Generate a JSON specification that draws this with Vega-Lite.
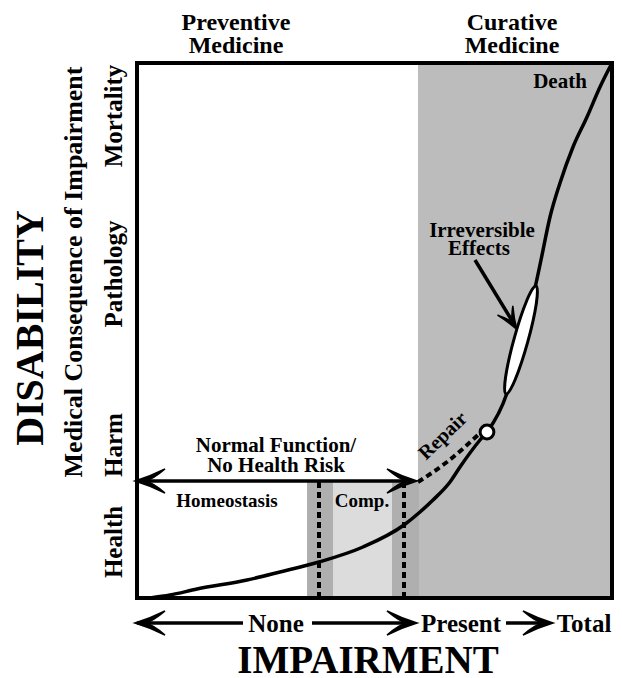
{
  "$schema": "https://vega.github.io/schema/vega-lite/v6.json",
  "width": 475,
  "height": 535,
  "autosize": {"type": "none"},
  "padding": {"left": 137, "top": 63, "right": 10, "bottom": 80},
  "background": "white",
  "config": {"view": {"stroke": null}, "text": {"font": "Liberation Serif", "fontWeight": "bold", "color": "black"}},
  "datasets": {
    "regions": [
      {"kind": "curative", "x": 281, "x2": 475, "y": 0, "y2": 535},
      {"kind": "comp", "x": 196, "x2": 255, "y": 0, "y2": 116},
      {"kind": "stipple", "x": 170, "x2": 196, "y": 0, "y2": 116},
      {"kind": "stipple", "x": 255, "x2": 282, "y": 0, "y2": 116}
    ],
    "vdash": [{"x": 182, "y": 0, "y2": 116}, {"x": 267, "y": 0, "y2": 116}],
    "curve": [
      {"x": 13, "y": 0}, {"x": 33, "y": 3}, {"x": 60, "y": 9}, {"x": 110, "y": 18},
      {"x": 143, "y": 26}, {"x": 182, "y": 36}, {"x": 226, "y": 51}, {"x": 267, "y": 73},
      {"x": 283, "y": 86}, {"x": 296, "y": 98}, {"x": 313, "y": 116}, {"x": 323, "y": 131},
      {"x": 343, "y": 158}, {"x": 350, "y": 166}, {"x": 370, "y": 205},
      {"x": 384, "y": 258}, {"x": 398, "y": 310}, {"x": 404, "y": 338}, {"x": 413, "y": 381},
      {"x": 423, "y": 415}, {"x": 436, "y": 451}, {"x": 450, "y": 481}, {"x": 463, "y": 511},
      {"x": 475, "y": 535}
    ],
    "repair": [{"x": 281, "y": 116}, {"x": 310, "y": 136}, {"x": 342, "y": 164}],
    "shafts": [
      {"x": 2, "x2": 274, "y": 117, "y2": 117},
      {"x": 0, "x2": 106, "y": -25, "y2": -25},
      {"x": 175, "x2": 272, "y": -25, "y2": -25},
      {"x": 369, "x2": 408, "y": -25, "y2": -25},
      {"x": 338, "x2": 377, "y": 338, "y2": 274}
    ],
    "heads": [
      {"x": 13, "y": 117, "dir": 180},
      {"x": 265, "y": 117, "dir": 0},
      {"x": 13, "y": -25, "dir": 180},
      {"x": 265, "y": -25, "dir": 0},
      {"x": 401, "y": -25, "dir": 0}
    ],
    "smallhead": [{"x": 374, "y": 278, "dir": 58.6}],
    "circle": [{"x": 350, "y": 166}],
    "ellipse": [{"x": 384, "y": 258}],
    "border": [{"x": 0, "x2": 475, "y": 0, "y2": 535}],
    "headers": [
      {"t": "Preventive", "x": 99, "y": 568}, {"t": "Medicine", "x": 99, "y": 545},
      {"t": "Curative", "x": 375, "y": 568}, {"t": "Medicine", "x": 375, "y": 545}
    ],
    "ylabels": [
      {"t": "Health", "x": -15, "y": 56}, {"t": "Harm", "x": -15, "y": 153},
      {"t": "Pathology", "x": -15, "y": 324}, {"t": "Mortality", "x": -15, "y": 482}
    ],
    "ytitle2": [{"t": "Medical Consequence of Impairment", "x": -55, "y": 326}],
    "ytitle": [{"t": "DISABILITY", "x": -94, "y": 270}],
    "xtitle": [{"t": "IMPAIRMENT", "x": 231, "y": -75}],
    "xlabels": [
      {"t": "None", "x": 139, "y": -34}, {"t": "Present", "x": 324, "y": -34}, {"t": "Total", "x": 447, "y": -34}
    ],
    "inner21": [
      {"t": "Normal Function/", "x": 139, "y": 146}, {"t": "No Health Risk", "x": 139, "y": 126},
      {"t": "Death", "x": 423, "y": 510}, {"t": "Irreversible", "x": 345, "y": 361}, {"t": "Effects", "x": 342, "y": 343}
    ],
    "inner19": [{"t": "Homeostasis", "x": 90, "y": 91}, {"t": "Comp.", "x": 225, "y": 91}],
    "repairText": [{"t": "Repair", "x": 306, "y": 162}]
  },
  "encoding": {
    "x": {"field": "x", "type": "quantitative", "scale": {"domain": [0, 475], "nice": false, "zero": false}, "axis": null},
    "y": {"field": "y", "type": "quantitative", "scale": {"domain": [0, 535], "nice": false, "zero": false}, "axis": null}
  },
  "layer": [
    {
      "data": {"name": "regions"},
      "mark": {"type": "rect"},
      "encoding": {
        "x2": {"field": "x2"}, "y2": {"field": "y2"},
        "color": {"field": "kind", "type": "nominal", "scale": {"domain": ["curative", "comp", "stipple"], "range": ["#bcbcbc", "#dcdcdc", "#afafaf"]}, "legend": null}
      }
    },
    {
      "data": {"name": "vdash"},
      "mark": {"type": "rule", "color": "black", "strokeWidth": 4, "strokeDash": [6, 4]},
      "encoding": {"y2": {"field": "y2"}}
    },
    {
      "data": {"name": "repair"},
      "mark": {"type": "line", "color": "black", "strokeWidth": 4, "strokeDash": [6, 4], "interpolate": "monotone"},
      "encoding": {}
    },
    {
      "data": {"name": "curve"},
      "mark": {"type": "line", "color": "black", "strokeWidth": 3.5, "interpolate": "monotone"},
      "encoding": {}
    },
    {
      "data": {"name": "shafts"},
      "mark": {"type": "rule", "color": "black", "strokeWidth": 3.5},
      "encoding": {"x2": {"field": "x2"}, "y2": {"field": "y2"}}
    },
    {
      "data": {"name": "heads"},
      "mark": {"type": "point", "filled": true, "color": "black", "opacity": 1, "size": 900, "stroke": "black", "strokeWidth": 1.5,
        "shape": "M1,0Q0,-0.3,-1,-0.8Q-0.2,-0.12,0.3,0Q-0.2,0.12,-1,0.8Q0,0.3,1,0Z"},
      "encoding": {"angle": {"field": "dir", "type": "quantitative", "scale": null}}
    },
    {
      "data": {"name": "smallhead"},
      "mark": {"type": "point", "filled": true, "color": "black", "opacity": 1, "size": 500, "stroke": "black", "strokeWidth": 1.5,
        "shape": "M1,0Q0,-0.3,-1,-0.8Q-0.2,-0.12,0.3,0Q-0.2,0.12,-1,0.8Q0,0.3,1,0Z"},
      "encoding": {"angle": {"field": "dir", "type": "quantitative", "scale": null}}
    },
    {
      "data": {"name": "ellipse"},
      "mark": {"type": "point", "filled": true, "fill": "white", "stroke": "black", "strokeWidth": 3, "opacity": 1, "size": 12544, "angle": 15.5,
        "shape": "M0,-1C0.07,-1,0.125,-0.552,0.125,0C0.125,0.552,0.07,1,0,1C-0.07,1,-0.125,0.552,-0.125,0C-0.125,-0.552,-0.07,-1,0,-1Z"},
      "encoding": {}
    },
    {
      "data": {"name": "circle"},
      "mark": {"type": "point", "shape": "circle", "filled": true, "fill": "white", "stroke": "black", "strokeWidth": 3, "opacity": 1, "size": 190},
      "encoding": {}
    },
    {
      "data": {"name": "border"},
      "mark": {"type": "rect", "fill": null, "fillOpacity": 0, "stroke": "black", "strokeWidth": 4},
      "encoding": {"x2": {"field": "x2"}, "y2": {"field": "y2"}}
    },
    {
      "data": {"name": "headers"},
      "mark": {"type": "text", "fontSize": 24, "align": "center", "baseline": "alphabetic"},
      "encoding": {"text": {"field": "t"}}
    },
    {
      "data": {"name": "ylabels"},
      "mark": {"type": "text", "fontSize": 25, "angle": -90, "align": "center", "baseline": "alphabetic"},
      "encoding": {"text": {"field": "t"}}
    },
    {
      "data": {"name": "ytitle2"},
      "mark": {"type": "text", "fontSize": 26, "angle": -90, "align": "center", "baseline": "alphabetic"},
      "encoding": {"text": {"field": "t"}}
    },
    {
      "data": {"name": "ytitle"},
      "mark": {"type": "text", "fontSize": 40, "angle": -90, "align": "center", "baseline": "alphabetic"},
      "encoding": {"text": {"field": "t"}}
    },
    {
      "data": {"name": "xtitle"},
      "mark": {"type": "text", "fontSize": 39, "align": "center", "baseline": "alphabetic"},
      "encoding": {"text": {"field": "t"}}
    },
    {
      "data": {"name": "xlabels"},
      "mark": {"type": "text", "fontSize": 25, "align": "center", "baseline": "alphabetic"},
      "encoding": {"text": {"field": "t"}}
    },
    {
      "data": {"name": "inner21"},
      "mark": {"type": "text", "fontSize": 21, "align": "center", "baseline": "alphabetic"},
      "encoding": {"text": {"field": "t"}}
    },
    {
      "data": {"name": "inner19"},
      "mark": {"type": "text", "fontSize": 19, "align": "center", "baseline": "alphabetic"},
      "encoding": {"text": {"field": "t"}}
    },
    {
      "data": {"name": "repairText"},
      "mark": {"type": "text", "fontSize": 20, "angle": -44, "align": "center", "baseline": "middle"},
      "encoding": {"text": {"field": "t"}}
    }
  ]
}
